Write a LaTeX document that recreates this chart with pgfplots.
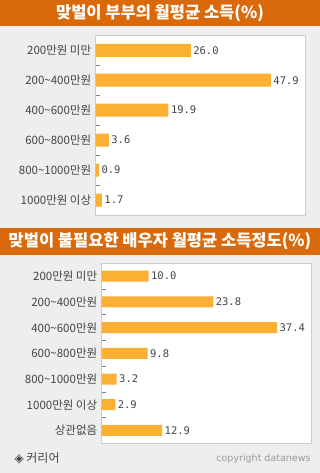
\documentclass[border=0pt]{standalone}
\usepackage{pgfplots}
\pgfplotsset{compat=1.18}
\usepackage{fontspec}
\setmainfont{Noto Sans CJK KR}
\newfontfamily\kr{Noto Sans CJK KR}
\newfontfamily\mono{DejaVu Sans Mono}
\newfontfamily\dv{DejaVu Sans}
\definecolor{bg}{HTML}{EEEEEE}
\definecolor{banner}{HTML}{D9690A}
\definecolor{barc}{HTML}{FBB034}
\definecolor{frame}{HTML}{CCCCCC}
\definecolor{lab}{HTML}{444444}
\pgfplotstableread{
y v
0 26.0
1 47.9
2 19.9
3 3.6
4 0.9
5 1.7
}\tabA
\pgfplotstableread{
y v
0 10.0
1 23.8
2 37.4
3 9.8
4 3.2
5 2.9
6 12.9
}\tabB
\pgfplotsset{
  mybar/.style={
    scale only axis,
    anchor=north west,
    xbar, xmin=0,
    y dir=reverse,
    axis background/.style={fill=white},
    axis line style={frame, line width=0.8pt},
    xtick=\empty,
    ytick pos=left,
    major tick length=0pt,
    minor tick length=4pt,
    tick align=inside,
    minor tick style={gray, line width=0.6pt},
    yticklabel style={font=\kr\fontsize{11.5}{12}\selectfont, text=lab, xshift=-1pt},
    nodes near coords,
    nodes near coords style={font=\mono\fontsize{10.5}{12}\selectfont, text=lab, xshift=-1pt, /pgf/number format/assume math mode=true, /pgf/number format/fixed, /pgf/number format/fixed zerofill, /pgf/number format/precision=1},
  }
}
\begin{document}
\begin{tikzpicture}
\fill[bg] (0pt,0pt) rectangle (320pt,-473pt);
\fill[banner] (0pt,0pt) rectangle (320pt,-26pt);
\node[text=white, font=\kr\bfseries\fontsize{16.5}{18}\selectfont] at (160pt,-13pt) {맞벌이 부부의 월평균 소득(\%)};
\fill[banner] (0pt,-228pt) rectangle (320pt,-255pt);
\node[text=white, font=\kr\bfseries\fontsize{16.5}{18}\selectfont] at (160pt,-241.5pt) {맞벌이 불필요한 배우자 월평균 소득정도(\%)};
\begin{axis}[mybar,
  at={(95.7pt,-35.3pt)},
  width=209.6pt, height=179.7pt,
  xmax=57.3, ymin=-0.5, ymax=5.5,
  bar width=13pt,
  ytick={0,...,5},
  minor ytick={0.5,1.5,2.5,3.5,4.5},
  yticklabels={200만원 미만,200\textasciitilde400만원,400\textasciitilde600만원,600\textasciitilde800만원,800\textasciitilde1000만원,1000만원 이상},
]
\addplot[fill=barc, draw=none] table[x=v, y=y] {\tabA};
\end{axis}
\begin{axis}[mybar,
  at={(101.7pt,-263.3pt)},
  width=210pt, height=180pt,
  xmax=44.8, ymin=-0.5, ymax=6.5,
  bar width=11pt,
  ytick={0,...,6},
  minor ytick={0.5,1.5,2.5,3.5,4.5,5.5},
  yticklabels={200만원 미만,200\textasciitilde400만원,400\textasciitilde600만원,600\textasciitilde800만원,800\textasciitilde1000만원,1000만원 이상,상관없음},
]
\addplot[fill=barc, draw=none] table[x=v, y=y] {\tabB};
\end{axis}
\node[anchor=west, text=lab, font=\kr\fontsize{12}{14}\selectfont] at (11pt,-458pt) {{\dv ◈} 커리어};
\node[anchor=east, text=gray!80, font=\dv\fontsize{9.5}{11}\selectfont] at (314pt,-459pt) {copyright datanews};
\end{tikzpicture}
\end{document}
